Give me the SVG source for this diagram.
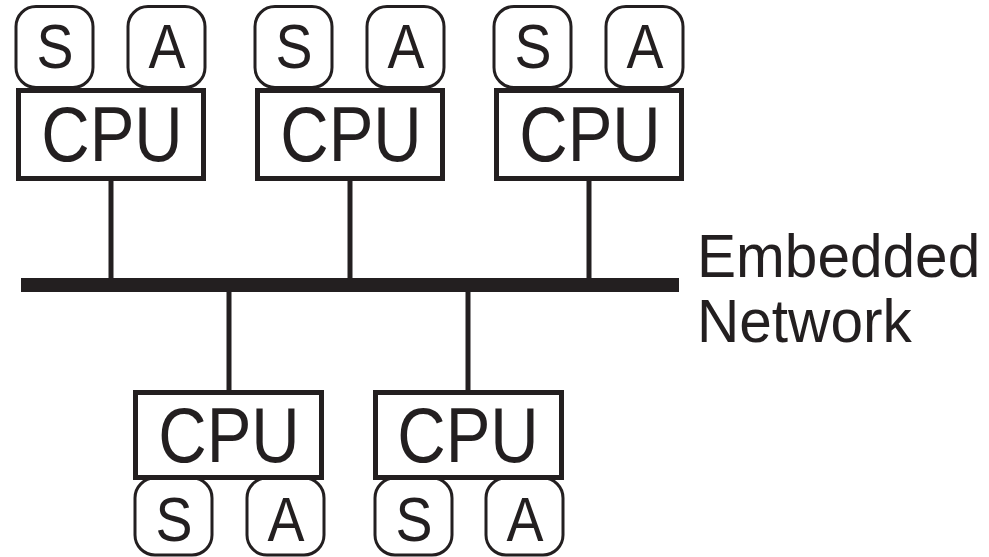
<svg xmlns="http://www.w3.org/2000/svg" width="989" height="557" viewBox="0 0 989 557">
  <style>
    .cpu { fill: #ffffff; stroke: #231f20; stroke-width: 5; }
    .io { fill: #ffffff; stroke: #231f20; stroke-width: 3; }
    .stub { stroke: #231f20; stroke-width: 5; fill: none; }
    .bus { fill: #231f20; }
    text { font-family: "Liberation Sans", Arial, sans-serif; fill: #231f20; }
    .big { font-size: 77px; text-anchor: middle; }
    .small { font-size: 63px; text-anchor: middle; }
    .label { font-size: 61px; }
  </style>

  <!-- network backbone and its label -->
  <g id="network">
    <rect class="bus" x="21" y="278" width="658" height="14"/>
    <text class="label" transform="translate(697 277) scale(0.96 1)">Embedded</text>
    <text class="label" transform="translate(697 342) scale(0.96 1)">Network</text>
  </g>

  <!-- drops from each CPU onto the backbone -->
  <g id="connectors">
    <line class="stub" x1="111" y1="180" x2="111" y2="280"/>
    <line class="stub" x1="350" y1="180" x2="350" y2="280"/>
    <line class="stub" x1="589" y1="180" x2="589" y2="280"/>
    <line class="stub" x1="229" y1="290" x2="229" y2="392"/>
    <line class="stub" x1="468" y1="290" x2="468" y2="392"/>
  </g>

  <!-- top row: sensor/actuator above each CPU -->
  <g id="s1"><rect class="io" x="16" y="6.5" width="77" height="81" rx="20"/><text class="small" transform="translate(55 68) scale(0.88 1)">S</text></g>
  <g id="a1"><rect class="io" x="128" y="6.5" width="77" height="81" rx="20"/><text class="small" transform="translate(167 68) scale(0.88 1)">A</text></g>
  <g id="cpu1"><rect class="cpu" x="18.5" y="90.5" width="185" height="88"/><text class="big" transform="translate(112 161) scale(0.87 1)">CPU</text></g>

  <g id="s2"><rect class="io" x="255" y="6.5" width="77" height="81" rx="20"/><text class="small" transform="translate(294 68) scale(0.88 1)">S</text></g>
  <g id="a2"><rect class="io" x="367" y="6.5" width="77" height="81" rx="20"/><text class="small" transform="translate(406 68) scale(0.88 1)">A</text></g>
  <g id="cpu2"><rect class="cpu" x="257.5" y="90.5" width="185" height="88"/><text class="big" transform="translate(351 161) scale(0.87 1)">CPU</text></g>

  <g id="s3"><rect class="io" x="494" y="6.5" width="77" height="81" rx="20"/><text class="small" transform="translate(533 68) scale(0.88 1)">S</text></g>
  <g id="a3"><rect class="io" x="606" y="6.5" width="77" height="81" rx="20"/><text class="small" transform="translate(645 68) scale(0.88 1)">A</text></g>
  <g id="cpu3"><rect class="cpu" x="496.5" y="90.5" width="185" height="88"/><text class="big" transform="translate(590 161) scale(0.87 1)">CPU</text></g>

  <!-- bottom row: sensor/actuator below each CPU -->
  <g id="s4"><rect class="io" x="135" y="478" width="77" height="77" rx="20"/><text class="small" transform="translate(174 541) scale(0.88 1)">S</text></g>
  <g id="a4"><rect class="io" x="247" y="478" width="77" height="77" rx="20"/><text class="small" transform="translate(286 541) scale(0.88 1)">A</text></g>
  <g id="cpu4"><rect class="cpu" x="135.5" y="392.5" width="186" height="85"/><text class="big" transform="translate(229 462) scale(0.87 1)">CPU</text></g>

  <g id="s5"><rect class="io" x="375" y="478" width="77" height="77" rx="20"/><text class="small" transform="translate(414 541) scale(0.88 1)">S</text></g>
  <g id="a5"><rect class="io" x="486" y="478" width="77" height="77" rx="20"/><text class="small" transform="translate(525 541) scale(0.88 1)">A</text></g>
  <g id="cpu5"><rect class="cpu" x="375.5" y="392.5" width="186" height="85"/><text class="big" transform="translate(468 462) scale(0.87 1)">CPU</text></g>
</svg>
